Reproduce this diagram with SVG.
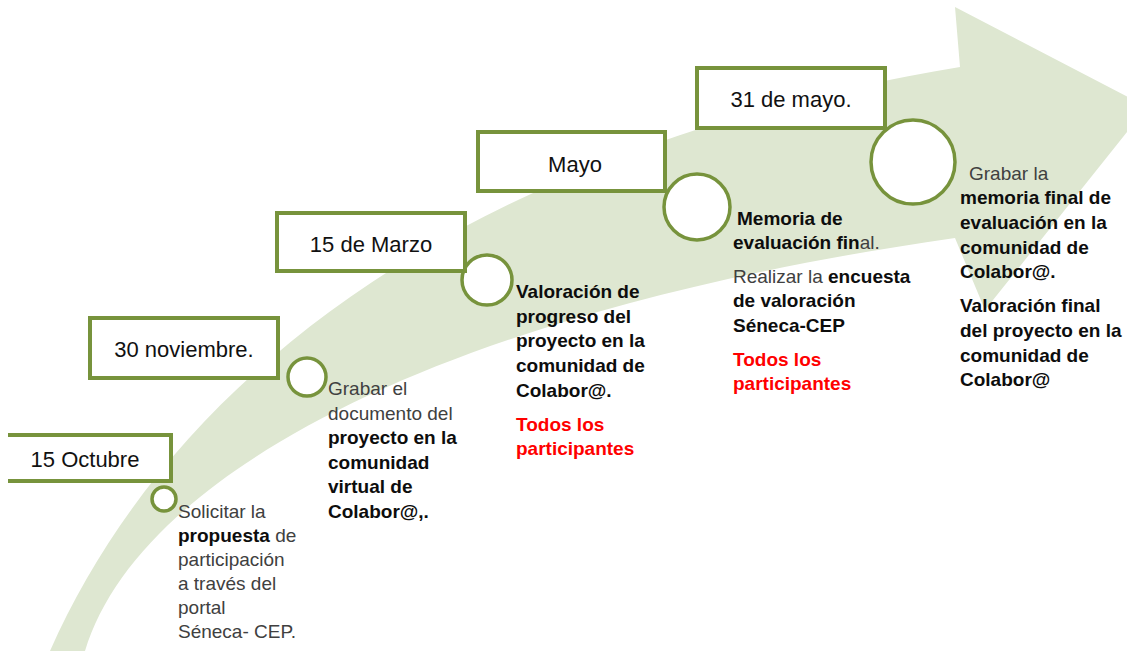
<svg xmlns="http://www.w3.org/2000/svg" width="1127" height="651" viewBox="0 0 1127 651">
<style>
.band{fill:#dee7d1}
.box{fill:#fff;stroke:#77933c;stroke-width:4}
.dot{fill:#fff;stroke:#77933c;stroke-width:3.5}
.date{font-family:"Liberation Sans",Arial,sans-serif;font-size:22px;fill:#111;text-anchor:middle}
.body{font-family:"Liberation Sans",Arial,sans-serif;font-size:19px;fill:#404040}
.b{font-weight:bold;fill:#0d0d0d}
.red{font-weight:bold;fill:#ff0000}
</style>
<rect width="1127" height="651" fill="#fff"/>
<g id="arrow">
<path class="band" d="M50,651 C170,380 460,150 960,67 L955,7 L1147,107 L985,310 L955,238 C450,310 140,470 85,651 Z"/>
</g>
<g id="markers">
<circle id="dot1" class="dot" cx="164" cy="499" r="12"/>
<circle id="dot2" class="dot" cx="307" cy="377" r="19"/>
<circle id="dot3" class="dot" cx="487" cy="280" r="25"/>
<circle id="dot4" class="dot" cx="697" cy="207" r="33"/>
<circle id="dot5" class="dot" cx="913" cy="162" r="42"/>
</g>
<g id="node-oct">
<rect x="0" y="435" width="171" height="46" fill="#fff"/>
<path d="M8,435 H171 V481 H8" fill="none" stroke="#77933c" stroke-width="4"/>
<text class="date" x="85" y="467">15 Octubre</text>
</g>
<g id="node-nov">
<rect class="box" x="90" y="318" width="188" height="60"/>
<text class="date" x="184" y="357">30 noviembre.</text>
</g>
<g id="node-mar">
<rect class="box" x="277" y="213" width="188" height="58"/>
<text class="date" x="371" y="252">15 de Marzo</text>
</g>
<g id="node-mayo">
<rect class="box" x="478" y="132" width="187" height="59"/>
<text class="date" x="575" y="172">Mayo</text>
</g>
<g id="node-31mayo">
<rect class="box" x="697" y="68" width="188" height="60"/>
<text class="date" x="791" y="107">31 de mayo.</text>
</g>
<g id="connectors"></g>
<g id="text-oct" class="body">
<text x="178" y="518">Solicitar la</text>
<text x="178" y="542"><tspan class="b">propuesta</tspan> de</text>
<text x="178" y="566">participación</text>
<text x="178" y="590">a través del</text>
<text x="178" y="614">portal</text>
<text x="178" y="638">Séneca- CEP.</text>
</g>
<g id="text-nov" class="body">
<text x="328" y="395">Grabar el</text>
<text x="328" y="420">documento del</text>
<text x="328" y="444" class="b">proyecto en la</text>
<text x="328" y="469" class="b">comunidad</text>
<text x="328" y="493" class="b">virtual de</text>
<text x="328" y="518" class="b">Colabor@,.</text>
</g>
<g id="text-mar" class="body">
<text x="516" y="298" class="b">Valoración de</text>
<text x="516" y="323" class="b">progreso del</text>
<text x="516" y="347" class="b">proyecto en la</text>
<text x="516" y="372" class="b">comunidad de</text>
<text x="516" y="397" class="b">Colabor@.</text>
<text x="516" y="431" class="red">Todos los</text>
<text x="516" y="455" class="red">participantes</text>
</g>
<g id="text-mayo" class="body">
<text x="737" y="225" class="b">Memoria de</text>
<text x="733" y="249"><tspan class="b">evaluación fin</tspan>al.</text>
<text x="733" y="283">Realizar la <tspan class="b">encuesta</tspan></text>
<text x="733" y="307" class="b">de valoración</text>
<text x="733" y="332" class="b">Séneca-CEP</text>
<text x="733" y="366" class="red">Todos los</text>
<text x="733" y="390" class="red">participantes</text>
</g>
<g id="text-31mayo" class="body">
<text x="969" y="180">Grabar la</text>
<text x="960" y="204" class="b">memoria final de</text>
<text x="960" y="229" class="b">evaluación en la</text>
<text x="960" y="254" class="b">comunidad de</text>
<text x="960" y="278" class="b">Colabor@.</text>
<text x="960" y="312" class="b">Valoración final</text>
<text x="960" y="337" class="b">del proyecto en la</text>
<text x="960" y="362" class="b">comunidad de</text>
<text x="960" y="386" class="b">Colabor@</text>
</g>
</svg>
